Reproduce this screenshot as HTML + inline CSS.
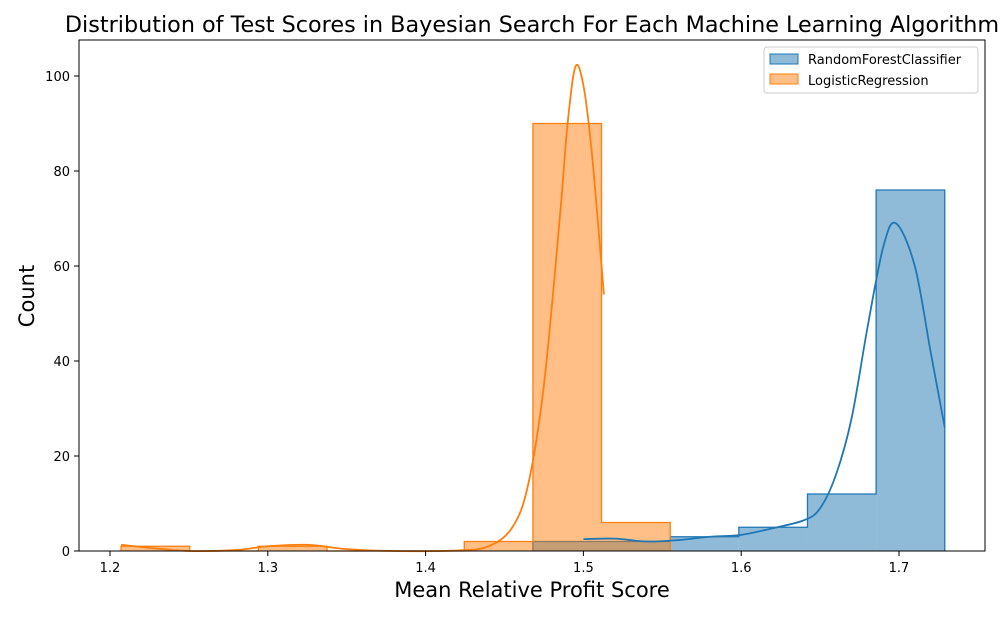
<!DOCTYPE html>
<html><head><meta charset="utf-8"><style>
body{margin:0;background:#fff;font-family:"Liberation Sans","DejaVu Sans",sans-serif}
svg text{font-family:"DejaVu Sans","Liberation Sans",sans-serif}
</style></head><body>
<svg id="chart" width="1000" height="617" xmlns="http://www.w3.org/2000/svg">
<text x="532" y="32" font-size="22.3" text-anchor="middle">Distribution of Test Scores in Bayesian Search For Each Machine Learning Algorithm</text>
<g id="plot"></g>
<rect x="79" y="40" width="906" height="511" fill="none" stroke="#000" stroke-width="1"/>
<text x="532" y="597" font-size="21" text-anchor="middle">Mean Relative Profit Score</text>
<text transform="translate(34,296) rotate(-90)" font-size="21" text-anchor="middle">Count</text>
<g>
<rect x="764" y="47" width="214" height="46" fill="#fff" stroke="#ccc" rx="3"/>
<rect x="770" y="54" width="28" height="10" fill="rgba(31,119,180,0.5)" stroke="#1f77b4"/>
<text x="808" y="64" font-size="13">RandomForestClassifier</text>
<rect x="770" y="74" width="28" height="10" fill="rgba(255,127,14,0.5)" stroke="#ff7f0e"/>
<text x="808" y="85" font-size="13">LogisticRegression</text>
</g>
</svg>
<script>
const binStart=1.207, binWidth=0.0435;
const rfCounts=[0,0,0,0,0,0,2,2,3,5,12,76];
const lrCounts=[1,0,1,0,0,2,90,6,0,0,0,0];
const xTicks=[1.2,1.3,1.4,1.5,1.6,1.7];
const yTicks=[0,20,40,60,80,100];
const rfKdeX=[1.5,1.52,1.54,1.56,1.58,1.6,1.62,1.64,1.65,1.66,1.67,1.68,1.69,1.698,1.71,1.72,1.729];
const rfKdeY=[2.5,2.6,2.0,2.3,3,3.4,4.8,6.5,9,16,28,47,64,69,60,42,26];
const lrKdeX=[1.207,1.23,1.25,1.28,1.3,1.325,1.35,1.38,1.42,1.44,1.455,1.465,1.475,1.485,1.49,1.495,1.5,1.505,1.51,1.513];
const lrKdeY=[1.3,0.5,0,0.2,1.0,1.3,0.4,0,0.1,1,5,14,35,70,90,102,98,85,66,54];
const X=v=>110+(v-1.2)*1578, Y=v=>551-v*4.75;
const ns="http://www.w3.org/2000/svg", g=document.getElementById('plot');
function mk(t,a){const e=document.createElementNS(ns,t);for(const k in a)e.setAttribute(k,a[k]);g.appendChild(e);return e;}
function bars(counts,fill,stroke,nm){
  counts.forEach((c,i)=>{const x0=X(binStart+i*binWidth),x1=X(binStart+(i+1)*binWidth);
    if(c>0){const r=mk('rect',{x:x0,y:Y(c),width:x1-x0,height:Y(0)-Y(c),fill:fill});
      
      }});
  let lo=counts.findIndex(c=>c>0),hi=counts.length-1-[...counts].reverse().findIndex(c=>c>0);
  let d="";for(let i=lo;i<=hi;i++){const x0=X(binStart+i*binWidth),x1=X(binStart+(i+1)*binWidth);d+=(i==lo?"M"+x0+","+Y(0)+" ":"")+"L"+x0+","+Y(counts[i])+" L"+x1+","+Y(counts[i])+" ";}
  d+="L"+X(binStart+(hi+1)*binWidth)+","+Y(0);
  const p=mk('path',{d:d,fill:'none',stroke:stroke,'stroke-width':1.3});
  
  
}
function kde(xs,ys,stroke,nm){
  const pts=xs.map((x,i)=>[X(x),Y(ys[i])]);let d="M"+pts[0];
  for(let i=0;i<pts.length-1;i++){const p0=pts[Math.max(0,i-1)],p1=pts[i],p2=pts[i+1],p3=pts[Math.min(pts.length-1,i+2)];
    d+=" C"+(p1[0]+(p2[0]-p0[0])/6)+","+(p1[1]+(p2[1]-p0[1])/6)+" "+(p2[0]-(p3[0]-p1[0])/6)+","+(p2[1]-(p3[1]-p1[1])/6)+" "+p2;}
  const p=mk('path',{d:d,fill:'none',stroke:stroke,'stroke-width':1.8});
  
  
}
bars(rfCounts,'rgba(31,119,180,0.5)','#1f77b4','rf');
bars(lrCounts,'rgba(255,127,14,0.5)','#ff7f0e','lr');
kde(rfKdeX,rfKdeY,'#1f77b4','rf');
kde(lrKdeX,lrKdeY,'#ff7f0e','lr');
xTicks.forEach(t=>{const l=mk('line',{x1:X(t),x2:X(t),y1:551,y2:556,stroke:'#000'});
  
  
  const tx=mk('text',{x:X(t),y:572,'font-size':13,'text-anchor':'middle'});tx.textContent=t.toFixed(1);
  
  });
yTicks.forEach(t=>{const l=mk('line',{x1:74,x2:79,y1:Y(t),y2:Y(t),stroke:'#000'});
  
  
  const tx=mk('text',{x:70,y:Y(t)+5,'font-size':13,'text-anchor':'end'});tx.textContent=t;
  
  });
</script>
</body></html>
